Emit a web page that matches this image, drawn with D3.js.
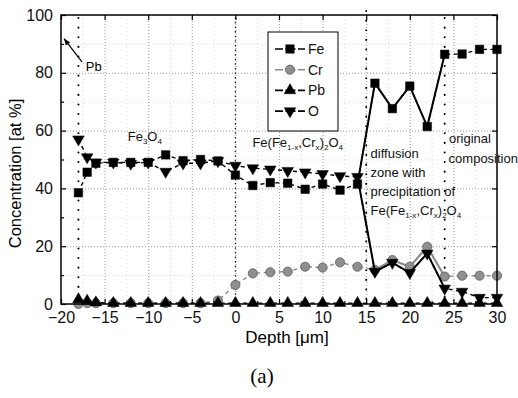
<!DOCTYPE html>
<html>
<head>
<meta charset="utf-8">
<script src="https://cdn.jsdelivr.net/npm/d3@7"></script>
<style>
  body { margin: 0; background: #fff; }
  svg { font-family: "Liberation Sans", Arial, sans-serif; }
  .grid line { stroke: #9a9a9a; stroke-dasharray: 1,2; }
  .minorGrid line { stroke: #d8d8d8; stroke-dasharray: 1,3; }
  .grid path, .minorGrid path { display: none; }
  .axisLabel path { display: none; }
  .axisLabel line { stroke: #000; stroke-width: 1.2; }
  .axisLabel text { font-family: "Liberation Sans", Arial, sans-serif; font-size: 16px; fill: #111; }
</style>
</head>
<body>
<svg width="518" height="398"></svg>
<script>
// depth positions of the measured points [µm]
const depth = [-18, -17, -16, -14, -12, -10, -8, -6, -4, -2, 0, 2, 4, 6, 8, 10, 12, 14, 16, 18, 20, 22, 24, 26, 28, 30]
const fe = [38.5, 45.6, 48.7, 49, 49, 49, 51.6, 49.6, 50, 49.5, 44.6, 41, 42, 41.8, 39.7, 41.5, 39.4, 41.5, 76.4, 67.6, 75.4, 61.4, 86.4, 86.5, 88.1, 88.1]
const cr = [0, 0.3, 0.3, 0.3, 0.3, 0.3, 0.3, 0.3, 0.3, 1.2, 6.6, 10.6, 11, 11.2, 12.9, 12.6, 14.4, 12.9, 11.8, 15.2, 12.9, 19.8, 9.5, 9.8, 9.8, 9.8]
const pb = [1.6, 1.1, 0.5, 0.3, 0.3, 0.3, 0.3, 0.3, 0.3, 0.3, 0.3, 0.3, 0.3, 0.3, 0.3, 0.3, 0.3, 0.3, 0.3, 0.3, 0.3, 0.3, 0.3, 0.3, 0.3, 0.3]
const ox = [57, 50.8, 49, 49, 48.6, 49, 45.8, 48.7, 48.7, 49.5, 47.9, 47, 46.6, 46.1, 45.6, 45, 44.3, 44, 11.2, 14.3, 10.8, 17.5, 5.4, 4.3, 2.2, 2.2]

const xTicks = [-20, -15, -10, -5, 0, 5, 10, 15, 20, 25, 30]
const yTicks = [0, 20, 40, 60, 80, 100]
const xMinor = d3.range(-17.5, 30, 5)
const yMinor = d3.range(10, 100, 20)
const boundaries = [-18, 0, 15, 24]

const series = [
  { name: 'Fe', values: fe, symbol: 'square', color: '#000', solid: [14, 24] },
  { name: 'Cr', values: cr, symbol: 'circle', color: '#8a8a8a', solid: [16, 24] },
  { name: 'Pb', values: pb, symbol: 'up', color: '#000', solid: null },
  { name: 'O', values: ox, symbol: 'down', color: '#000', solid: [14, 24] }
]

draw()

function draw () {
  const dim = setDimensions()
  const scales = setScales(dim)
  const svg = d3.select('svg')
  const g = svg.append('g')
    .attr('transform', `translate(${dim.margin.left},${dim.margin.top})`)

  drawGrid(g, dim, scales)
  drawBoundaries(g, dim, scales)
  drawAnnotations(g, scales)
  series.forEach((s) => drawSeries(g, s, scales))
  drawFrame(g, dim, scales)
  drawLegend(svg)
  drawTitles(svg, dim)
}

function setDimensions () {
  const margin = { top: 15, right: 21, bottom: 94, left: 61 }
  const width = 518 - margin.left - margin.right
  const height = 398 - margin.top - margin.bottom
  return { width, height, margin }
}

function setScales ({ width, height }) {
  return {
    xScale: d3.scaleLinear().domain([-20, 30]).range([0, width]),
    yScale: d3.scaleLinear().domain([0, 100]).range([height, 0])
  }
}

function drawGrid (g, { width, height }, { xScale, yScale }) {
  g.append('g').attr('class', 'minorGrid')
    .call(d3.axisLeft(yScale).tickValues(yMinor).tickSize(-width).tickFormat(''))
  g.append('g').attr('class', 'minorGrid')
    .attr('transform', `translate(0,${height})`)
    .call(d3.axisBottom(xScale).tickValues(xMinor).tickSize(-height).tickFormat(''))
  g.append('g').attr('class', 'grid')
    .call(d3.axisLeft(yScale).tickValues(yTicks.slice(1, -1)).tickSize(-width).tickFormat(''))
  g.append('g').attr('class', 'grid')
    .attr('transform', `translate(0,${height})`)
    .call(d3.axisBottom(xScale).tickValues(xTicks.slice(1, -1)).tickSize(-height).tickFormat(''))
}

function drawBoundaries (g, { height }, { xScale }) {
  g.selectAll('.boundary')
    .data(boundaries)
    .enter().append('line')
      .attr('class', 'boundary')
      .attr('x1', (d) => xScale(d))
      .attr('x2', (d) => xScale(d))
      .attr('y1', (d) => d === 15 ? -4 : 3)
      .attr('y2', height)
      .attr('stroke', '#000')
      .attr('stroke-width', (d) => d === 0 ? 1.4 : 2)
      .attr('stroke-linecap', 'round')
      .attr('stroke-dasharray', (d) => d === 0 ? '0.1,4.5' : '0.1,9.5')
}

function symbolPath (type) {
  if (type === 'square') return d3.symbol(d3.symbolSquare, 72)()
  if (type === 'circle') return d3.symbol(d3.symbolCircle, 66)()
  return d3.symbol(d3.symbolTriangle, 58)()
}

function appendMarker (sel, s) {
  return sel.append('path')
    .attr('d', symbolPath(s.symbol))
    .attr('fill', s.symbol === 'circle' ? '#8f8f8f' : '#000')
    .attr('stroke', s.symbol === 'circle' ? '#5c5c5c' : '#000')
    .attr('stroke-width', s.symbol === 'circle' ? 0.8 : 0.5)
}

function drawSeries (g, s, { xScale, yScale }) {
  const pts = depth.map((d, i) => ({ x: d, y: s.values[i] }))
  const line = d3.line().x((d) => xScale(d.x)).y((d) => yScale(d.y))

  g.append('path')
    .datum(pts)
    .attr('d', line)
    .attr('fill', 'none')
    .attr('stroke', s.color)
    .attr('stroke-width', 1.4)
    .attr('stroke-dasharray', '4,3.5')

  if (s.solid) {
    g.append('path')
      .datum(pts.filter((p) => p.x >= s.solid[0] && p.x <= s.solid[1]))
      .attr('d', line)
      .attr('fill', 'none')
      .attr('stroke', s.color)
      .attr('stroke-width', 2)
  }

  const rot = s.symbol === 'down' ? ' rotate(180)' : ''
  g.selectAll(null)
    .data(pts)
    .enter().append('g')
      .attr('transform', (d) => `translate(${xScale(d.x)},${yScale(d.y)})${rot}`)
      .each(function () { appendMarker(d3.select(this), s) })
}

function drawFrame (g, { width, height }, { xScale, yScale }) {
  g.append('rect')
    .attr('width', width)
    .attr('height', height)
    .attr('fill', 'none')
    .attr('stroke', '#000')
    .attr('stroke-width', 1.5)

  // major ticks pointing inwards, labels on left and bottom
  g.append('g').attr('class', 'axisLabel')
    .call(d3.axisLeft(yScale).tickValues(yTicks).tickSizeInner(-5).tickSizeOuter(0).tickPadding(8))
  g.append('g').attr('class', 'axisLabel')
    .attr('transform', `translate(0,${height})`)
    .call(d3.axisBottom(xScale).tickValues(xTicks).tickSizeInner(-5).tickSizeOuter(0).tickPadding(8))
  g.append('g').attr('class', 'axisLabel')
    .attr('transform', `translate(${width},0)`)
    .call(d3.axisRight(yScale).tickValues(yTicks).tickSizeInner(-5).tickSizeOuter(0).tickFormat(''))
  g.append('g').attr('class', 'axisLabel')
    .call(d3.axisTop(xScale).tickValues(xTicks).tickSizeInner(-5).tickSizeOuter(0).tickFormat(''))

  // minor ticks
  g.append('g').attr('class', 'axisLabel')
    .call(d3.axisLeft(yScale).tickValues(yMinor).tickSizeInner(-3).tickSizeOuter(0).tickFormat(''))
  g.append('g').attr('class', 'axisLabel')
    .attr('transform', `translate(0,${height})`)
    .call(d3.axisBottom(xScale).tickValues(xMinor).tickSizeInner(-3).tickSizeOuter(0).tickFormat(''))
}

function subText (sel, parts, size) {
  parts.forEach(([txt, sub], i) => {
    const prevSub = i > 0 && parts[i - 1][1]
    sel.append('tspan')
      .attr('font-size', sub ? size * 0.62 : size)
      .attr('dy', sub && !prevSub ? 3 : (!sub && prevSub ? -3 : 0))
      .text(txt)
  })
}

function drawAnnotations (g, { xScale, yScale }) {
  // Pb arrow near the surface
  const tail = [xScale(-17.6), yScale(83.8)]
  const tip = [xScale(-19.65), yScale(91.8)]
  g.append('line')
    .attr('x1', tail[0]).attr('y1', tail[1])
    .attr('x2', tip[0]).attr('y2', tip[1])
    .attr('stroke', '#000').attr('stroke-width', 1.2)
  const ang = Math.atan2(tip[1] - tail[1], tip[0] - tail[0])
  const head = [0, 1].map((k) => {
    const a = ang + Math.PI + (k ? 0.4 : -0.4)
    return [tip[0] + 7 * Math.cos(a), tip[1] + 7 * Math.sin(a)]
  })
  g.append('path')
    .attr('d', `M${tip}L${head[0]}L${head[1]}Z`)
    .attr('fill', '#000')
  g.append('text')
    .attr('x', xScale(-17.15)).attr('y', yScale(80.5))
    .attr('font-size', 13).text('Pb')

  const labels = [
    { x: -12.35, y: 56.5, parts: [['Fe', 0], ['3', 1], ['O', 0], ['4', 1]] },
    { x: 1.95, y: 54.3, parts: [['Fe(Fe', 0], ['1-x', 1], [',Cr', 0], ['x', 1], [')', 0], ['2', 1], ['O', 0], ['4', 1]] },
    { x: 15.5, y: 50.6, parts: [['diffusion', 0]] },
    { x: 15.5, y: 44.0, parts: [['zone with', 0]] },
    { x: 15.5, y: 37.3, parts: [['precipitation of', 0]] },
    { x: 15.5, y: 30.8, parts: [['Fe(Fe', 0], ['1-x', 1], [',Cr', 0], ['x', 1], [')', 0], ['2', 1], ['O', 0], ['4', 1]] },
    { x: 24.5, y: 55.6, parts: [['original', 0]] },
    { x: 24.45, y: 48.7, parts: [['composition', 0]] }
  ]
  labels.forEach((l) => {
    const t = g.append('text')
      .attr('x', xScale(l.x)).attr('y', yScale(l.y))
      .attr('font-size', 13).attr('fill', '#111')
    subText(t, l.parts, 13)
  })
}

function drawLegend (svg) {
  const lg = svg.append('g').attr('transform', 'translate(268,32)')
  lg.append('rect')
    .attr('width', 70).attr('height', 99)
    .attr('fill', '#fff').attr('stroke', '#000').attr('stroke-width', 1)
  series.forEach((s, i) => {
    const row = lg.append('g').attr('transform', `translate(0,${17 + i * 20.7})`)
    row.append('line')
      .attr('x1', 7).attr('x2', 37)
      .attr('stroke', s.color).attr('stroke-width', 1.6)
      .attr('stroke-dasharray', '8,2.5,10,2.5,8')
    const m = row.append('g')
      .attr('transform', `translate(22,0)${s.symbol === 'down' ? ' rotate(180)' : ''}`)
    appendMarker(m, s)
    row.append('text')
      .attr('x', 40).attr('y', 5)
      .attr('font-size', 14).attr('fill', '#111')
      .text(s.name)
  })
}

function drawTitles (svg, { width, height, margin }) {
  svg.append('text')
    .attr('x', margin.left + width / 2 + 8)
    .attr('y', 343)
    .attr('text-anchor', 'middle')
    .attr('font-size', 17)
    .text('Depth [\u03bcm]')
  svg.append('text')
    .attr('transform', `translate(21,${margin.top + height / 2 + 14}) rotate(-90)`)
    .attr('text-anchor', 'middle')
    .attr('font-size', 16.5)
    .text('Concentration [at %]')
  svg.append('text')
    .attr('x', 262)
    .attr('y', 383)
    .attr('text-anchor', 'middle')
    .attr('font-family', '"Liberation Serif", "Times New Roman", serif')
    .attr('font-size', 21)
    .text('(a)')
}
</script>
</body>
</html>
